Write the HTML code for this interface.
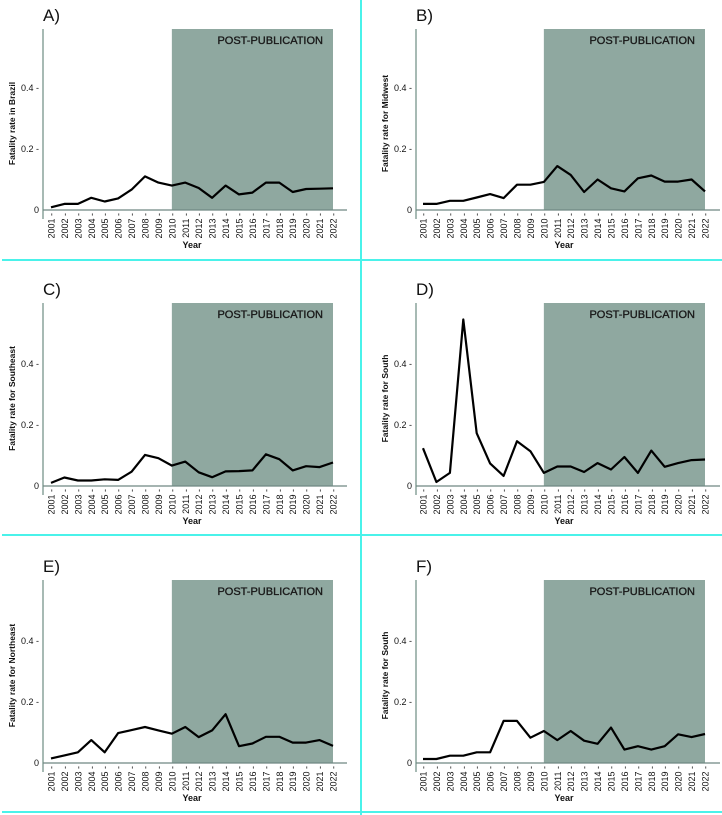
<!DOCTYPE html>
<html><head><meta charset="utf-8"><style>
html,body{margin:0;padding:0;background:#fff;}
svg{display:block;}
text{font-family:"Liberation Sans",sans-serif;}
</style></head><body>
<svg id="chart" width="722" height="815" viewBox="0 0 722 815" xmlns="http://www.w3.org/2000/svg">
<line x1="361" y1="0" x2="361" y2="815" stroke="#4af2ea" stroke-width="2"/>
<line x1="2" y1="260" x2="722" y2="260" stroke="#4af2ea" stroke-width="2"/>
<line x1="2" y1="535" x2="722" y2="535" stroke="#4af2ea" stroke-width="2"/>
<line x1="2" y1="812" x2="722" y2="812" stroke="#4af2ea" stroke-width="2"/>
</svg>
<script>
const years = ["2001","2002","2003","2004","2005","2006","2007","2008","2009","2010","2011","2012","2013","2014","2015","2016","2017","2018","2019","2020","2021","2022"];
const yTicks = [0, 0.2, 0.4];
const yTickLabels = ["0", "0.2", "0.4"];
const shadeStartYear = "2010";
const shadeEndYear = "2022";
const brazil = [0.009,0.02,0.02,0.04,0.028,0.038,0.067,0.11,0.09,0.08,0.09,0.072,0.04,0.08,0.051,0.057,0.09,0.09,0.059,0.069,0.07,0.071];
const midwest = [0.02,0.02,0.03,0.03,0.041,0.052,0.039,0.083,0.083,0.092,0.144,0.115,0.059,0.10,0.071,0.061,0.104,0.113,0.093,0.093,0.10,0.061];
const southeast = [0.01,0.028,0.018,0.018,0.022,0.02,0.047,0.102,0.091,0.067,0.08,0.045,0.029,0.048,0.049,0.051,0.104,0.088,0.051,0.065,0.062,0.077];
const southD = [0.124,0.013,0.043,0.546,0.173,0.074,0.033,0.147,0.114,0.043,0.064,0.064,0.046,0.075,0.054,0.095,0.043,0.116,0.063,0.075,0.085,0.087];
const northeast = [0.015,0.025,0.035,0.075,0.035,0.098,0.108,0.118,0.107,0.096,0.118,0.085,0.107,0.16,0.055,0.064,0.086,0.086,0.067,0.067,0.075,0.056];
const southF = [0.013,0.013,0.024,0.024,0.035,0.035,0.138,0.138,0.083,0.105,0.075,0.105,0.073,0.063,0.116,0.044,0.055,0.044,0.055,0.094,0.085,0.095];

const svg = document.getElementById('chart');
const NS = 'http://www.w3.org/2000/svg';
function mk(tag, attrs, parent){ const e=document.createElementNS(NS,tag); for(const k in attrs) e.setAttribute(k,attrs[k]); (parent||svg).appendChild(e); return e; }

const panels = [
 {letter:"A)", label:"Fatality rate in Brazil", data:brazil, ax:43, x1:51, x22:333, zero:210, top:29},
 {letter:"B)", label:"Fatality rate for Midwest", data:midwest, ax:416, x1:423, x22:705, zero:210, top:29},
 {letter:"C)", label:"Fatality rate for Southeast", data:southeast, ax:43, x1:51, x22:333, zero:486, top:303},
 {letter:"D)", label:"Fatality rate for South", data:southD, ax:416, x1:423, x22:705, zero:486, top:303},
 {letter:"E)", label:"Fatality rate for Northeast", data:northeast, ax:43, x1:51, x22:333, zero:763, top:580},
 {letter:"F)", label:"Fatality rate for South", data:southF, ax:416, x1:423, x22:705, zero:763, top:580}
];
const PXU = 305;

panels.forEach((p, pi) => {
  const g = mk('g', {});
  
  
  const xs = i => p.x1 + (p.x22 - p.x1) * i / (years.length - 1);
  const ys = v => p.zero - v * PXU;
  const s0 = xs(years.indexOf(shadeStartYear)), s1 = xs(years.indexOf(shadeEndYear));
  const sh = mk('rect', {x:s0, y:p.top, width:s1-s0, height:p.zero-p.top, fill:'#8fa8a0'}, g);
  
  
  const st = mk('text', {x:s1-10, y:p.top+15, 'text-anchor':'end', 'font-size':'11', fill:'#1a1a1a', stroke:'#1a1a1a', 'stroke-width':'0.35'}, g);
  st.textContent = 'POST-PUBLICATION';
  
  
  const ya = mk('line', {x1:p.ax, y1:p.top, x2:p.ax, y2:p.zero+9, stroke:'#8aa39c', 'stroke-width':'1.5'}, g);
  
  
  const xa = mk('line', {x1:p.ax, y1:p.zero, x2:p.ax+304, y2:p.zero, stroke:'#6f8882', 'stroke-width':'1.2'}, g);
  
  
  yTicks.forEach((t, i) => {
    const tx = mk('text', {x:p.ax-4, y:ys(t)+3, 'text-anchor':'end', 'font-size':'9', fill:'#111'}, g);
    tx.textContent = i === 0 ? yTickLabels[i] : yTickLabels[i] + ' -';
    
    
  });
  years.forEach((yr, i) => {
    const x = xs(i), y = p.zero + 3;
    const tx = mk('text', {x:x+3.5, y:y, 'text-anchor':'end', 'font-size':'9', fill:'#111', transform:`rotate(-90 ${x+3.5} ${y})`}, g);
    tx.textContent = yr + ' -';
    
    
  });
  const xt = mk('text', {x:(p.x1+p.x22)/2, y:p.zero+38, 'text-anchor':'middle', 'font-size':'9', 'font-weight':'bold', fill:'#111'}, g);
  xt.textContent = 'Year';
  
  
  const ycx = p.ax - 28, ycy = (p.top + p.zero) / 2 + 4;
  const yt = mk('text', {x:ycx, y:ycy, 'text-anchor':'middle', 'font-size':'8.5', 'font-weight':'bold', fill:'#111', transform:`rotate(-90 ${ycx} ${ycy})`}, g);
  yt.textContent = p.label;
  
  
  const lt = mk('text', {x:p.ax, y:p.top-8, 'font-size':'17', fill:'#111'}, g);
  lt.textContent = p.letter;
  
  
  const pts = p.data.map((v, i) => xs(i).toFixed(1) + ',' + ys(v).toFixed(1)).join(' ');
  const pl = mk('polyline', {points:pts, fill:'none', stroke:'#000', 'stroke-width':'2.2', 'stroke-linejoin':'round'}, g);
  
  
});
</script>
</body></html>
